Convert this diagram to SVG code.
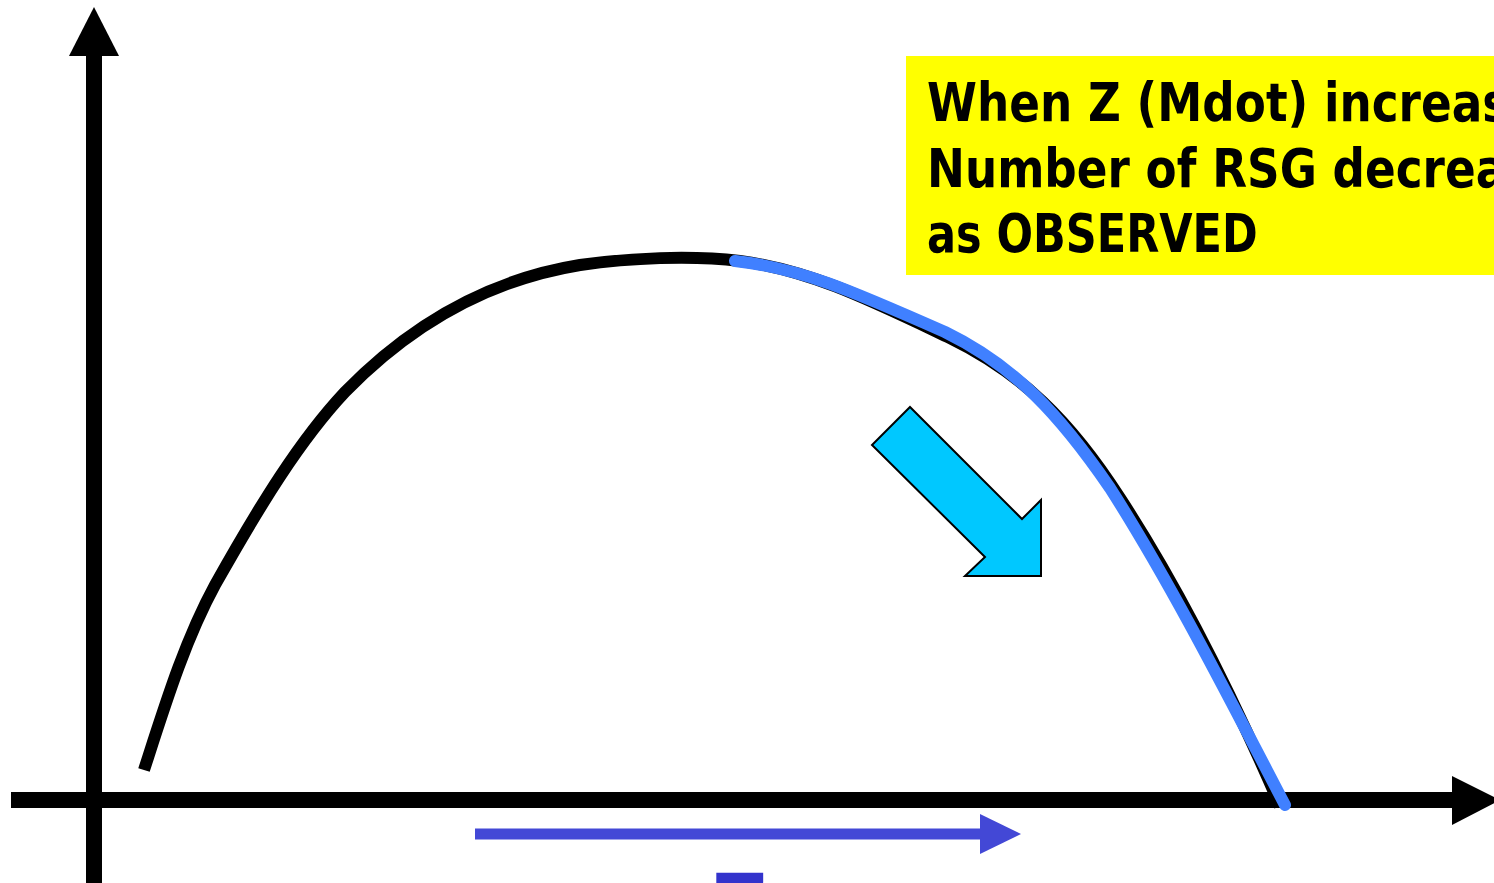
<svg xmlns="http://www.w3.org/2000/svg" width="1494" height="883" viewBox="0 0 1494 883">
<style>
.lbl{font-family:"DejaVu Sans Condensed","DejaVu Sans",sans-serif;font-weight:bold;font-size:53px;fill:#000}
.curve{fill:none;stroke-width:12;stroke-linejoin:round}
</style>
<rect width="1494" height="883" fill="#fff"/>
<g id="axes">
  <rect x="86" y="52" width="16" height="831" fill="#000"/>
  <polygon points="94,7 119,56 69,56" fill="#000"/>
  <rect x="11" y="792" width="1444" height="16" fill="#000"/>
  <polygon points="1452,776 1500,800 1452,825" fill="#000"/>
</g>
<g id="connectors">
  <path class="curve" stroke="#000" d="M144,770 C165,705 185,640 215,585 C260,505 300,440 345,392 C420,315 500,278 580,265 C630,258 690,255 740,261 C810,270 870,300 950,338 C1020,372 1070,420 1120,498 C1180,590 1230,690 1280,806"/>
  <path class="curve" stroke="#4080FF" stroke-linecap="round" d="M735,261 C800,268 850,290 945,332 C1015,366 1060,415 1110,488 C1170,582 1225,690 1285,805"/>
  <line x1="475" y1="834" x2="985" y2="834" stroke="#4348D6" stroke-width="11"/>
  <polygon points="980,814 1021,834 980,854" fill="#4348D6"/>
</g>
<g id="cyan-arrow">
  <polygon points="910,407 1022,519 1041,500 1041,576 965,576 985,557 872,445" fill="#00C8FF" stroke="#000" stroke-width="2"/>
</g>
<g id="note">
  <rect x="906" y="56" width="600" height="219" fill="#FFFF00"/>
  <g transform="translate(927,0) scale(0.95,1) translate(-927,0)">
    <text class="lbl" x="927" y="121">When Z (Mdot) increases,</text>
    <text class="lbl" x="927" y="187">Number of RSG decreases</text>
    <text class="lbl" x="927" y="252" textLength="348" lengthAdjust="spacingAndGlyphs">as OBSERVED</text>
  </g>
</g>
<g id="z-label">
  <text x="712" y="935" font-family="DejaVu Sans Condensed, DejaVu Sans, sans-serif" font-weight="bold" font-size="85" fill="#3333CC">Z</text>
</g>
</svg>
